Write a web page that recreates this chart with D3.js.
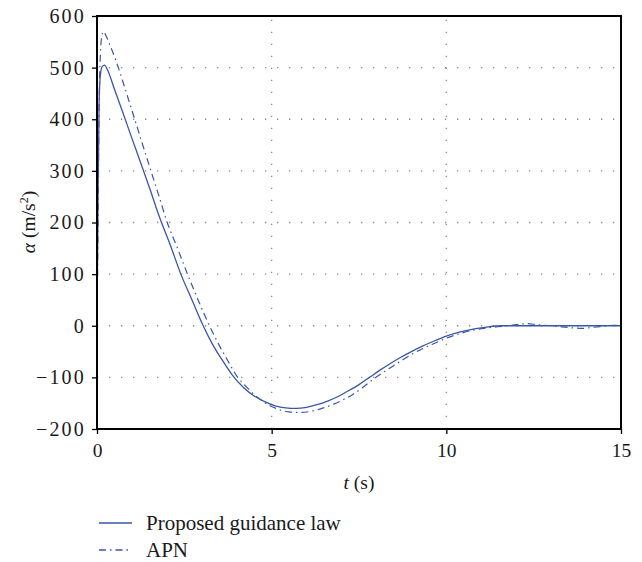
<!DOCTYPE html>
<html>
<head>
<meta charset="utf-8">
<script src="https://cdn.jsdelivr.net/npm/d3@7"></script>
<style>
  html, body { margin: 0; padding: 0; background: #fff; }
  svg { display: block; }
  text { font-family: "Liberation Serif", "DejaVu Serif", serif; fill: #1a1a1a; }
</style>
</head>
<body>
<svg id="chart" width="642" height="562"></svg>
<script>
// ---- data ----
const xTicks = [0, 5, 10, 15];
const yTicks = [-200, -100, 0, 100, 200, 300, 400, 500, 600];
const seriesNames = ["Proposed guidance law", "APN"];

const timeProposed = [0,0.03,0.06,0.1,0.15,0.22,0.3,0.5,0.75,1.0,1.28,1.53,1.78,2.1,2.4,2.72,3.04,3.3,3.58,3.88,4.2,4.5,4.8,5.1,5.4,5.7,6.0,6.3,6.6,6.9,7.2,7.5,7.8,8.1,8.4,8.7,9.0,9.3,9.6,10.0,10.4,10.8,11.2,11.6,12.0,13.0,14.0,15.0];
const proposed = [0,250,430,488,502,505,496,458,411,363,310,262,212,156,100,50,0,-35,-66,-96,-120,-136,-147,-155,-159,-160,-158,-153,-146,-137,-126,-114,-100,-86,-73,-61,-50,-40,-31,-20,-12,-6,-2,0,0,0,0,0];

const timeAPN = [0,0.03,0.06,0.1,0.14,0.18,0.25,0.35,0.54,0.8,1.07,1.3,1.54,1.77,2.0,2.3,2.59,2.9,3.22,3.5,3.73,3.98,4.3,4.6,4.9,5.2,5.5,5.8,6.1,6.4,6.7,7.0,7.3,7.6,7.9,8.2,8.5,8.8,9.1,9.4,9.7,10.0,10.4,10.8,11.2,11.6,12.0,12.3,12.6,13.0,13.3,13.6,13.9,14.2,14.5,14.8,15.0];
const apn = [0,200,420,530,562,570,563,547,514,460,402,352,301,252,202,151,100,49,0,-38,-66,-95,-120,-139,-153,-162,-167,-168,-166,-161,-154,-145,-134,-120,-104,-90,-77,-64,-52,-42,-33,-24,-15,-8,-4,-1,2,4,2,0,-2,-4,-5,-3,-1,1,1];

// ---- layout ----
const L = 97, R = 621, T = 16, B = 429;
const blue = "#3a56a8";
const serif = "\"Liberation Serif\", \"DejaVu Serif\", serif";
const svg = d3.select("#chart");

const x = d3.scaleLinear().domain([0, 15]).range([L, R]);
const y = d3.scaleLinear().domain([-200, 600]).range([B, T]);

// gridlines (dotted)
const grid = svg.append("g");
grid.selectAll("line.h").data(yTicks.filter(v => v > -200 && v < 600)).join("line")
  .attr("x1", L).attr("x2", R)
  .attr("y1", d => y(d)).attr("y2", d => y(d))
  .attr("stroke", "#8a8a8a").attr("stroke-width", 1.3)
  .attr("stroke-dasharray", "1.3,10.7");
grid.selectAll("line.v").data(xTicks.filter(v => v > 0 && v < 15)).join("line")
  .attr("y1", B).attr("y2", T)
  .attr("x1", d => x(d)).attr("x2", d => x(d))
  .attr("stroke", "#8a8a8a").attr("stroke-width", 1.3)
  .attr("stroke-dasharray", "1.3,10.7");

// clip
svg.append("clipPath").attr("id", "clip").append("rect")
  .attr("x", L).attr("y", T).attr("width", R - L).attr("height", B - T);

const line = d3.line().x(d => x(d[0])).y(d => y(d[1])).curve(d3.curveMonotoneX);
const plot = svg.append("g").attr("clip-path", "url(#clip)");
plot.append("path").datum(timeAPN.map((t, i) => [t, apn[i]]))
  .attr("d", line).attr("fill", "none").attr("stroke", blue)
  .attr("stroke-width", 1.2).attr("stroke-dasharray", "7,4,1.5,4");
plot.append("path").datum(timeProposed.map((t, i) => [t, proposed[i]]))
  .attr("d", line).attr("fill", "none").attr("stroke", blue)
  .attr("stroke-width", 1.3);

// axes
const xAxis = d3.axisBottom(x).tickValues(xTicks).tickSize(5).tickPadding(9).tickFormat(d3.format("d"));
const yAxis = d3.axisLeft(y).tickValues(yTicks).tickSize(5).tickPadding(6)
  .tickFormat(d => d < 0 ? "\u2212" + Math.abs(d) : String(d));

const gx = svg.append("g").attr("transform", `translate(0,${B})`).call(xAxis);
const gy = svg.append("g").attr("transform", `translate(${L},0)`).call(yAxis);
[gx, gy].forEach(g => {
  g.attr("font-family", serif).attr("font-size", 19);
  g.select(".domain").remove();
  g.selectAll(".tick line").attr("stroke", "#000").attr("stroke-width", 1.3);
  g.selectAll(".tick text").attr("fill", "#1a1a1a").attr("font-family", serif)
    .style("font-family", serif).style("font-size", "19.5px");
});
gy.selectAll(".tick text").style("font-size", "20px").attr("letter-spacing", 2.2);

// frame
svg.append("rect").attr("x", L).attr("y", T).attr("width", R - L).attr("height", B - T)
  .attr("fill", "none").attr("stroke", "#000").attr("stroke-width", 2);

// axis titles
const xt = svg.append("text").attr("x", 359).attr("y", 489).attr("text-anchor", "middle").attr("font-size", 19.5);
xt.append("tspan").attr("font-style", "italic").text("t");
xt.append("tspan").text(" (s)");

const yt = svg.append("text").attr("transform", "translate(35,222) rotate(-90)")
  .attr("text-anchor", "middle").attr("font-size", 19.5);
yt.append("tspan").attr("font-style", "italic").text("\u03B1");
yt.append("tspan").text(" (m/s");
yt.append("tspan").attr("font-size", 12).attr("dy", -7).text("2");
yt.append("tspan").attr("dy", 7).text(")");

// legend
const legend = svg.append("g");
const styles = [null, "7,4,1.5,4"];
seriesNames.forEach((name, i) => {
  const ly = 523 + i * 27;
  legend.append("line").attr("x1", 99).attr("x2", 132).attr("y1", ly).attr("y2", ly)
    .attr("stroke", blue).attr("stroke-width", 1.3)
    .attr("stroke-dasharray", styles[i]);
  legend.append("text").attr("x", 146).attr("y", ly + 7).attr("font-size", 21).text(name);
});
</script>
</body>
</html>
